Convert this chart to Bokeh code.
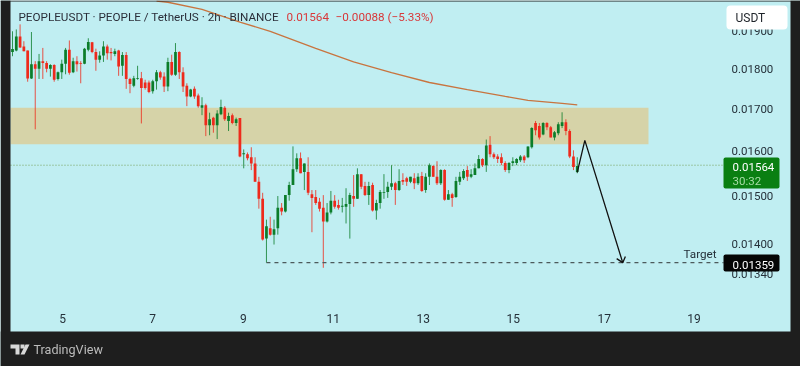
from bokeh.plotting import figure
from bokeh.embed import file_html
from bokeh.resources import INLINE
from bokeh.models import (FixedTicker, NumeralTickFormatter, Label, BoxAnnotation,
                          PolyAnnotation, Range1d, ColumnDataSource)
import numpy as np

# OHLC in units of 0.00001 USDT, one bar every 2h
opens = [1844,1848,1886,1859,1848,1775,1812,1800,1820,1815,
         1800,1810,1774,1791,1813,1850,1791,1820,1815,1813,
         1850,1870,1844,1824,1835,1859,1844,1839,1848,1808,
         1836,1774,1757,1774,1776,1765,1765,1743,1768,1791,
         1780,1755,1818,1785,1844,1791,1757,1730,1749,1732,
         1702,1708,1660,1678,1660,1686,1702,1670,1684,1665,
         1677,1592,1592,1585,1571,1530,1493,1410,1431,1418,
         1431,1474,1466,1501,1523,1558,1583,1552,1552,1503,
         1497,1487,1474,1445,1464,1489,1480,1476,1476,1482,
         1499,1493,1547,1521,1501,1523,1468,1484,1506,1508,
         1519,1527,1512,1534,1538,1530,1538,1527,1543,1512,
         1541,1565,1541,1527,1556,1491,1503,1497,1530,1538,
         1556,1541,1545,1560,1581,1567,1614,1592,1587,1585,
         1572,1556,1572,1572,1578,1587,1585,1608,1665,1658,
         1638,1665,1655,1631,1641,1658,1667,1646,1587,1552]
highs = [1900,1905,1919,1873,1848,1898,1820,1839,1855,1820,
         1812,1812,1793,1824,1855,1875,1829,1833,1820,1855,
         1881,1871,1853,1846,1873,1864,1855,1853,1850,1844,
         1844,1777,1782,1808,1792,1772,1770,1772,1797,1795,
         1791,1829,1837,1868,1846,1804,1763,1749,1755,1737,
         1728,1712,1690,1680,1696,1722,1706,1690,1688,1678,
         1677,1603,1596,1608,1585,1541,1506,1449,1455,1449,
         1499,1484,1501,1530,1610,1594,1596,1571,1585,1512,
         1512,1495,1501,1484,1510,1501,1491,1495,1516,1506,
         1545,1560,1547,1530,1530,1528,1491,1512,1547,1530,
         1567,1530,1558,1549,1541,1541,1549,1549,1552,1549,
         1571,1567,1576,1558,1558,1512,1506,1541,1552,1558,
         1565,1558,1571,1590,1583,1626,1634,1596,1592,1594,
         1576,1574,1585,1583,1590,1590,1610,1655,1670,1665,
         1667,1667,1658,1646,1667,1691,1674,1650,1601,1585]
lows = [1833,1846,1855,1846,1767,1774,1650,1774,1774,1791,
        1780,1767,1770,1774,1786,1785,1789,1793,1763,1812,
        1846,1841,1795,1816,1818,1824,1822,1833,1782,1782,
        1749,1738,1753,1772,1664,1747,1738,1737,1747,1772,
        1741,1743,1782,1782,1774,1741,1706,1728,1724,1702,
        1684,1634,1636,1642,1627,1684,1670,1646,1662,1658,
        1585,1560,1578,1556,1530,1472,1406,1362,1416,1398,
        1418,1458,1464,1489,1523,1552,1549,1512,1501,1423,
        1480,1466,1352,1443,1460,1472,1470,1464,1441,1410,
        1476,1493,1514,1499,1480,1466,1449,1472,1493,1495,
        1512,1480,1510,1523,1521,1527,1514,1523,1508,1506,
        1523,1541,1523,1523,1489,1491,1476,1495,1523,1534,
        1532,1538,1545,1560,1563,1552,1585,1581,1572,1567,
        1552,1549,1565,1567,1574,1572,1583,1605,1636,1626,
        1636,1648,1631,1624,1636,1653,1636,1583,1556,1549]
closes = [1852,1886,1856,1846,1775,1812,1800,1820,1815,1800,
          1810,1772,1791,1813,1850,1790,1820,1812,1813,1853,
          1871,1844,1824,1835,1859,1841,1841,1846,1806,1836,
          1774,1761,1776,1776,1751,1751,1741,1768,1791,1778,
          1755,1818,1785,1844,1791,1755,1730,1747,1730,1706,
          1708,1660,1674,1660,1688,1704,1674,1682,1665,1674,
          1587,1594,1583,1571,1530,1493,1408,1435,1418,1429,
          1474,1466,1501,1523,1558,1583,1549,1571,1506,1495,
          1484,1472,1445,1464,1489,1476,1474,1478,1482,1501,
          1493,1547,1519,1501,1521,1468,1484,1508,1508,1519,
          1527,1512,1532,1530,1530,1541,1527,1541,1510,1541,
          1567,1541,1527,1556,1491,1503,1495,1532,1541,1554,
          1541,1547,1560,1581,1567,1612,1592,1585,1581,1572,
          1556,1572,1576,1581,1587,1578,1610,1653,1648,1631,
          1665,1655,1631,1643,1662,1667,1646,1587,1563,1565]

ma_bars = [38,41,50,60,68,80,90,100,110,120,130,136,145,149]
ma_vals = [1984,1981,1961,1925,1900,1854,1818,1790,1765,1747,1730,1720,1713,1709]

zone_top, zone_bottom = 1702, 1615
last_price, target_price = 0.01564, 0.01359
arrow_bars = [149, 151, 161]
arrow_vals = [1551, 1624, 1362]
head_bars = [159.4, 161, 161.7]
head_vals = [1370, 1362, 1374]

price_ticks = [0.019, 0.018, 0.017, 0.016, 0.015, 0.014, 0.0134]
day_labels = ["5", "7", "9", "11", "13", "15", "17", "19"]
day_bars = [13.2, 37.0, 60.9, 84.6, 108.4, 132.1, 156.1, 179.8]

BG = "#c0eef2"; DARK = "#1e1e1e"; TXT = "#25313a"
UP = "#0b7d2a"; DOWN = "#ee2a1c"; FONT = "Roboto"

zone_start = -0.53
zone_end = 167.8
tag_l = 187.6

p = figure(width=800, height=366, output_backend="svg", toolbar_location=None,
           y_axis_type="log", y_axis_location="right",
           x_range=Range1d(-3.166, 207.9), y_range=Range1d(0.01173, 0.01986),
           min_border_left=0, min_border_right=0, min_border_top=0, min_border_bottom=0)
p.styles = {"position": "fixed", "left": "0", "top": "0"}
p.background_fill_color = BG
p.border_fill_color = BG
p.outline_line_color = None
p.grid.visible = False

ya = p.yaxis[0]
ya.ticker = FixedTicker(ticks=price_ticks)
ya.formatter = NumeralTickFormatter(format="0.00000")
ya.axis_line_color = None
ya.major_tick_line_color = None
ya.minor_tick_line_color = None
ya.major_tick_out = 0
ya.major_label_standoff = -69
ya.major_label_text_font = FONT
ya.major_label_text_font_size = "11.5px"
ya.major_label_text_color = TXT

xa = p.xaxis[0]
xa.ticker = FixedTicker(ticks=day_bars)
xa.major_label_overrides = dict(zip(day_bars, day_labels))
xa.axis_line_color = None
xa.major_tick_line_color = None
xa.minor_tick_line_color = None
xa.major_tick_out = 0
xa.major_label_standoff = -53
xa.major_label_text_font = FONT
xa.major_label_text_font_size = "12px"
xa.major_label_text_color = TXT

o, h, l, c = [np.array(a) / 1e5 for a in (opens, highs, lows, closes)]
idx = np.arange(len(o))
col = [UP if cc >= oo else DOWN for oo, cc in zip(o, c)]
src = ColumnDataSource(dict(x=idx, o=o, h=h, l=l, c=c, col=col,
                            top=np.maximum(o, c), bot=np.minimum(o, c)))

p.quad(left=[zone_start], right=[zone_end], top=[zone_top / 1e5], bottom=[zone_bottom / 1e5],
       fill_color="#d6d3a8", line_color=None)
p.line([zone_start, tag_l], [0.01567, 0.01567], line_color="#6f9a4a", line_width=1, line_dash="1 2", line_alpha=0.9)
p.segment("x", "h", "x", "l", source=src, line_color="col", line_width=1, line_alpha=0.8)
p.vbar(x="x", width=0.72, top="top", bottom="bot", source=src, fill_color="col", line_color=None)
p.line(ma_bars, np.array(ma_vals) / 1e5, line_color="#c8743f", line_width=1.3)
p.line([67, tag_l], [0.01362, 0.01362], line_color="#4c5a5c", line_width=1.2, line_dash="4 4")
p.line(arrow_bars, np.array(arrow_vals) / 1e5, line_color="#111111", line_width=1.3)
p.line(head_bars, np.array(head_vals) / 1e5, line_color="#111111", line_width=1.3)

def box(l_, r, t, b, color, radius=0):
    p.add_layout(BoxAnnotation(left=l_, right=r, top=t, bottom=b, left_units="canvas", right_units="canvas",
                               top_units="canvas", bottom_units="canvas", fill_color=color, fill_alpha=1,
                               line_color=None, border_radius=radius, level="annotation"))

# dark surround of the chart pane
box(0, 10, 0, 366, DARK)
box(790, 800, 0, 366, DARK)
box(0, 800, 0, 1, DARK)
box(0, 800, 331, 366, DARK)
# tags
box(726, 787, 5, 29, "#ffffff", 4)
box(723, 779, 157, 188, "#0a7f12", 2)
box(723, 779, 254, 271, "#050505", 2)

def lab(x, y, text, color, size, font=FONT, align="left"):
    p.add_layout(Label(x=x, y=y, x_units="canvas", y_units="canvas", text=text, text_color=color,
                       text_font=font, text_font_size=size, text_baseline="middle", text_align=align,
                       level="overlay"))

lab(18, 16, "PEOPLEUSDT · PEOPLE / TetherUS · 2h · BINANCE", "#2a2e39", "11.7px")
lab(286, 16, "0.01564", "#d8383a", "11.7px")
lab(335, 16, "−0.00088", "#d8383a", "11.7px")
lab(387, 16, "(−5.33%)", "#d8383a", "11.7px")
lab(735, 17, "USDT", "#1e2329", "12px")
lab(732, 166, "0.01564", "#ffffff", "11.5px")
lab(732, 180, "30:32", "#a6dca6", "11.5px")
lab(732, 264, "0.01359", "#ffffff", "11.5px")
lab(683, 253, "Target", TXT, "11.7px")
lab(33, 349, "TradingView", "#bcbcbc", "12.6px")

# TradingView mark
logo = [([10, 19, 19, 15, 15, 10], [344, 344, 354, 354, 348, 348]),
        ([20, 24, 24, 20], [344, 344, 348, 348]),
        ([25, 29, 24, 20], [344, 344, 354, 354])]
for xs, ys in logo:
    p.add_layout(PolyAnnotation(xs=xs, ys=ys, xs_units="canvas", ys_units="canvas", fill_color="#d8d8d8",
                                fill_alpha=1, line_color=None, level="overlay"))

open("out.html", "w").write(file_html(p, INLINE))
